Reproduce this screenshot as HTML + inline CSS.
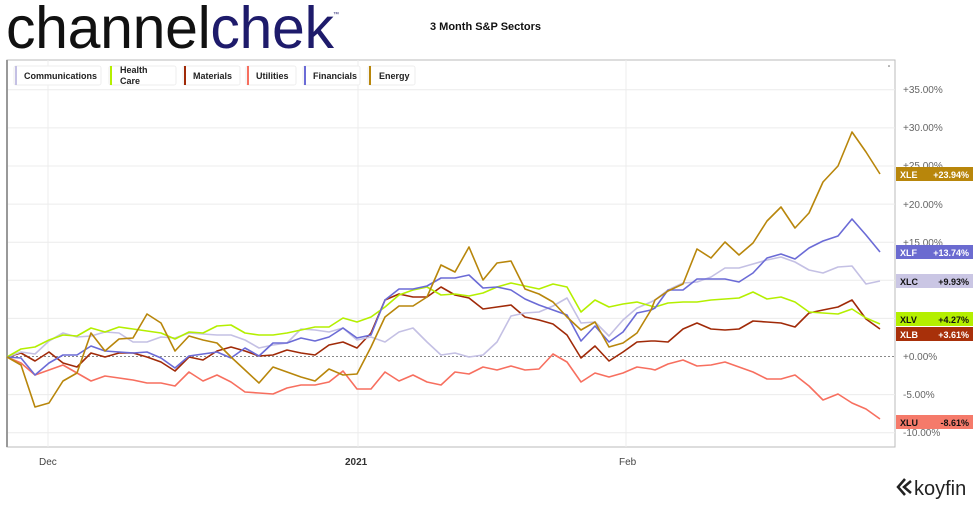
<!DOCTYPE html>
<html><head><meta charset="utf-8"><style>
body{margin:0;width:975px;height:504px;background:#fff;overflow:hidden;font-family:"Liberation Sans",sans-serif;}
</style></head><body>
<svg width="975" height="504" xmlns="http://www.w3.org/2000/svg" font-family="Liberation Sans, sans-serif">
<text x="6" y="48" font-size="59" textLength="328" lengthAdjust="spacing" fill="#111">channel<tspan fill="#1e1b6b">chek</tspan></text>
<text x="333" y="16" font-size="6" fill="#1e1b6b">™</text>
<text x="430" y="30" font-size="11" font-weight="bold" fill="#111">3 Month S&amp;P Sectors</text>
<rect x="7" y="60" width="888" height="387" fill="#fff" stroke="#bbb"/>
<line x1="7" y1="60" x2="7" y2="447" stroke="#999" stroke-width="2"/>
<g stroke="#ececec" stroke-width="1">
<line x1="8" x2="895" y1="89.8" y2="89.8"/><line x1="8" x2="895" y1="127.9" y2="127.9"/><line x1="8" x2="895" y1="166" y2="166"/><line x1="8" x2="895" y1="204.1" y2="204.1"/><line x1="8" x2="895" y1="242.2" y2="242.2"/><line x1="8" x2="895" y1="280.3" y2="280.3"/><line x1="8" x2="895" y1="318.4" y2="318.4"/><line x1="8" x2="895" y1="394.6" y2="394.6"/><line x1="8" x2="895" y1="432.7" y2="432.7"/>
<line x1="48" x2="48" y1="60" y2="447"/><line x1="358" x2="358" y1="60" y2="447"/><line x1="626" x2="626" y1="60" y2="447"/>
</g>
<line x1="8" x2="895" y1="356.5" y2="356.5" stroke="#888" stroke-dasharray="2,2"/>
<g font-size="10" fill="#666">
<text x="903" y="93">+35.00%</text><text x="903" y="131">+30.00%</text><text x="903" y="169">+25.00%</text><text x="903" y="208">+20.00%</text><text x="903" y="246">+15.00%</text><text x="903" y="284">+10.00%</text><text x="903" y="322">+5.00%</text><text x="903" y="360">+0.00%</text><text x="903" y="398">-5.00%</text><text x="903" y="436">-10.00%</text>
</g>
<g font-size="10" fill="#444"><text x="39" y="465">Dec</text><text x="345" y="465" font-weight="bold" fill="#333">2021</text><text x="619" y="465">Feb</text></g>
<g fill="none" stroke-width="1.6" stroke-linejoin="round">
<polyline stroke="#f76f5f" points="7,357 21,363 35,375 49,370 63,365 77,373 91,381 105,376 119,378 133,380 147,383 161,383 175,386 189,372 203,381 217,375 231,382 245,392 259,393 273,394 287,388 301,385 315,385 329,382 343,371 357,389 371,389 385,372 399,381 413,375 427,382 441,385 455,372 469,374 483,367 497,370 511,366 525,370 539,369 553,354 567,362 581,382 595,373 609,377 623,373 637,367 651,369 655,370 668,364 683,360 697,366 711,365 725,362 739,367 753,372 767,379 781,379 795,375 809,386 823,400 838,394 852,403 866,409 880,419"/>
<polyline stroke="#a02a08" points="7,357 21,353 35,361 49,352 63,363 77,367 91,353 105,357 119,353 133,353 147,357 161,362 175,371 189,357 203,360 217,351 231,347 245,351 259,356 273,355 287,350 301,353 315,355 329,345 343,342 357,348 371,333 385,300 399,294 413,297 427,297 441,287 455,295 469,298 483,309 497,307 511,305 525,317 539,320 553,324 567,335 581,358 595,346 609,361 623,352 637,342 651,341 655,341 668,342 683,329 697,323 711,329 725,330 739,329 753,321 767,322 781,323 795,327 809,313 823,310 838,307 852,300 866,319 880,329"/>
<polyline stroke="#c4c0e4" points="7,357 21,352 35,354 49,341 63,333 77,337 91,336 105,332 119,333 133,342 147,342 161,337 175,338 189,333 203,334 217,335 231,335 245,340 259,348 273,345 287,343 301,329 315,330 329,332 343,328 357,340 371,337 385,342 399,332 413,328 427,342 441,355 455,353 469,357 483,355 497,342 511,316 525,313 539,312 553,306 567,298 581,323 595,322 609,336 623,320 637,308 651,302 655,300 668,290 683,283 697,282 711,277 725,268 739,268 753,264 767,260 781,257 795,262 809,270 823,273 838,267 852,266 866,284 880,281"/>
<polyline stroke="#b4ef00" points="7,357 21,349 35,347 49,340 63,335 77,336 91,328 105,332 119,327 133,329 147,331 161,333 175,339 189,332 203,333 217,326 231,325 245,333 259,335 273,335 287,333 301,330 315,327 329,327 343,318 357,322 371,317 385,307 399,295 413,290 427,287 441,295 455,294 469,296 483,293 497,287 511,283 525,286 539,289 553,284 567,287 581,312 595,300 609,307 623,304 637,302 651,306 655,307 668,303 683,302 697,302 711,300 725,299 739,298 753,292 767,299 781,297 795,302 809,312 823,313 838,314 852,309 866,318 880,324"/>
<polyline stroke="#6b6bd6" points="7,357 21,358 35,375 49,363 63,355 77,355 91,346 105,351 119,352 133,353 147,352 161,358 175,368 189,356 203,354 217,352 231,358 245,348 259,356 273,343 287,343 301,338 315,341 329,337 343,328 357,338 371,335 385,300 399,289 413,289 427,286 441,278 455,278 469,275 483,288 497,287 511,290 525,299 539,305 553,310 567,315 581,341 595,326 609,342 623,332 637,313 651,310 655,308 668,290 683,290 697,279 711,279 725,279 739,282 753,273 767,258 781,254 795,259 809,248 823,241 838,236 852,219 866,235 880,252"/>
<polyline stroke="#b8860b" points="7,357 21,365 35,407 49,403 63,381 77,373 91,333 105,351 119,339 133,338 147,314 161,323 175,351 189,336 203,340 217,343 231,357 245,370 259,383 273,367 287,372 301,377 315,381 329,369 343,375 357,374 371,347 385,317 399,306 413,306 427,297 441,265 455,272 469,247 483,280 497,263 511,261 525,289 539,294 553,302 567,317 581,330 595,322 609,347 623,343 637,333 651,310 655,300 668,291 683,284 697,249 711,258 725,242 739,255 753,243 767,221 781,207 795,228 809,213 823,182 838,166 852,132 866,152 880,174"/>
</g>
<circle cx="889" cy="66" r="0.8" fill="#666"/>
<g font-size="9" font-weight="bold">
<rect x="896" y="167" width="77" height="14" fill="#b8860b"/><text x="900" y="178" fill="#fff">XLE</text><text x="969" y="178" fill="#fff" text-anchor="end">+23.94%</text>
<rect x="896" y="245" width="77" height="14" fill="#6b6bd0"/><text x="900" y="256" fill="#fff">XLF</text><text x="969" y="256" fill="#fff" text-anchor="end">+13.74%</text>
<rect x="896" y="274" width="77" height="14" fill="#cac6e4"/><text x="900" y="285" fill="#111">XLC</text><text x="969" y="285" fill="#111" text-anchor="end">+9.93%</text>
<rect x="896" y="312" width="77" height="14" fill="#b4ef00"/><text x="900" y="323" fill="#111">XLV</text><text x="969" y="323" fill="#111" text-anchor="end">+4.27%</text>
<rect x="896" y="327" width="77" height="14" fill="#a8300a"/><text x="900" y="338" fill="#fff">XLB</text><text x="969" y="338" fill="#fff" text-anchor="end">+3.61%</text>
<rect x="896" y="415" width="77" height="14" fill="#f57a6a"/><text x="900" y="426" fill="#111">XLU</text><text x="969" y="426" fill="#111" text-anchor="end">-8.61%</text>
</g>
<g font-size="9" font-weight="bold" fill="#222">
<rect x="14" y="66" width="87" height="19" fill="#fff" stroke="#eee" rx="2"/><rect x="15" y="66" width="2" height="19" fill="#c4c0e4"/><text x="24" y="79">Communications</text>
<rect x="109" y="66" width="67" height="19" fill="#fff" stroke="#eee" rx="2"/><rect x="110" y="66" width="2" height="19" fill="#b4ef00"/><text x="120" y="73">Health</text><text x="120" y="84">Care</text>
<rect x="183" y="66" width="57" height="19" fill="#fff" stroke="#eee" rx="2"/><rect x="184" y="66" width="2" height="19" fill="#a02a08"/><text x="193" y="79">Materials</text>
<rect x="246" y="66" width="50" height="19" fill="#fff" stroke="#eee" rx="2"/><rect x="247" y="66" width="2" height="19" fill="#f76f5f"/><text x="256" y="79">Utilities</text>
<rect x="303" y="66" width="57" height="19" fill="#fff" stroke="#eee" rx="2"/><rect x="304" y="66" width="2" height="19" fill="#6b6bd6"/><text x="313" y="79">Financials</text>
<rect x="368" y="66" width="47" height="19" fill="#fff" stroke="#eee" rx="2"/><rect x="369" y="66" width="2" height="19" fill="#b8860b"/><text x="379" y="79">Energy</text>
</g>
<g stroke="#222" stroke-width="2.5" fill="none"><polyline points="905,479 898,487 905,495"/><polyline points="911,481 904,487 911,493"/></g>
<text x="914" y="495" font-size="20" fill="#222">koyfin</text>
</svg>
</body></html>
